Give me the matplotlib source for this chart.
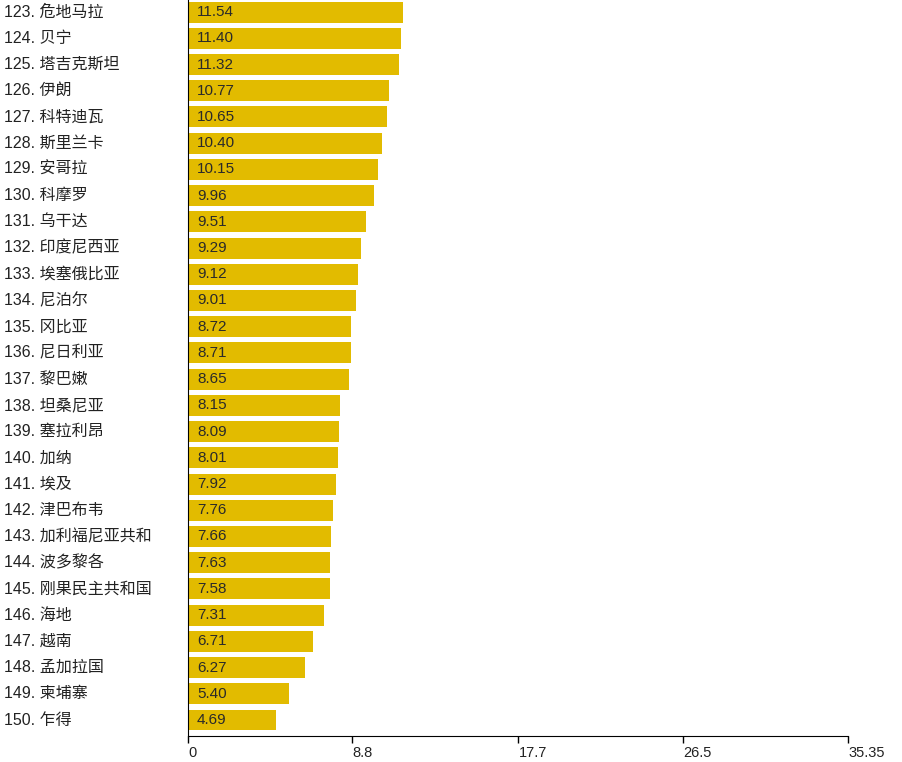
import matplotlib.pyplot as plt

plt.rcParams['font.family'] = ['Liberation Sans', 'Noto Sans CJK SC', 'DejaVu Sans']

ranks = list(range(123, 151))
countries = ['危地马拉', '贝宁', '塔吉克斯坦', '伊朗', '科特迪瓦', '斯里兰卡', '安哥拉',
             '科摩罗', '乌干达', '印度尼西亚', '埃塞俄比亚', '尼泊尔', '冈比亚', '尼日利亚',
             '黎巴嫩', '坦桑尼亚', '塞拉利昂', '加纳', '埃及', '津巴布韦', '加利福尼亚共和',
             '波多黎各', '刚果民主共和国', '海地', '越南', '孟加拉国', '柬埔寨', '乍得']
values = [11.54, 11.40, 11.32, 10.77, 10.65, 10.40, 10.15, 9.96, 9.51, 9.29, 9.12, 9.01,
          8.72, 8.71, 8.65, 8.15, 8.09, 8.01, 7.92, 7.76, 7.66, 7.63, 7.58, 7.31, 6.71,
          6.27, 5.40, 4.69]
xticks = [0, 8.8, 17.7, 26.5, 35.35]
xtick_labels = ['0', '8.8', '17.7', '26.5', '35.35']

fig = plt.figure(figsize=(9.02, 7.62), dpi=100)
ax = fig.add_axes([188 / 902, 26 / 762, 660 / 902, 736 / 762])

pos = list(range(len(values)))
ax.barh(pos, values, height=0.8, color='#e2bb00')
ax.set_ylim(27.61, -0.46)
ax.set_xlim(0, 35.35)

for i, (r, c, v) in enumerate(zip(ranks, countries, values)):
    ax.annotate(f'{v:.2f}', xy=(0, i), xytext=(9, 0), textcoords='offset pixels',
                va='center', ha='left', fontsize=11, color='#2a2a2a')
    ax.annotate(f'{r}. {c}', xy=(0, i), xycoords=('figure fraction', 'data'),
                xytext=(4, 0), textcoords='offset pixels', va='center', ha='left',
                fontsize=11.5, color='#222222')

for s in ['top', 'right']:
    ax.spines[s].set_visible(False)
ax.spines['left'].set_color('black')
ax.spines['bottom'].set_color('black')
ax.set_yticks([])
ax.set_xticks(xticks)
ax.set_xticklabels(xtick_labels, fontsize=10.5, color='#222222')
for lbl in ax.get_xticklabels():
    lbl.set_horizontalalignment('left')
ax.tick_params(axis='x', length=5, width=1, pad=2)

fig.savefig('out.png', dpi=100)
